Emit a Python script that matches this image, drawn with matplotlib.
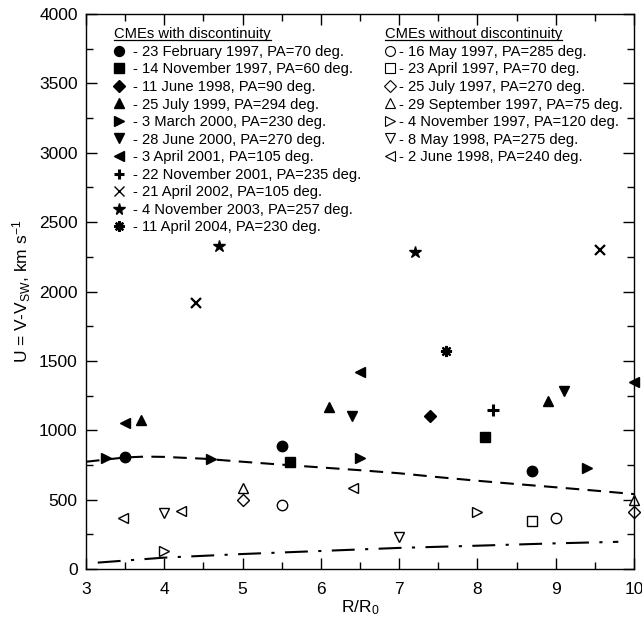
import matplotlib
matplotlib.use("Agg")
import matplotlib.pyplot as plt
from matplotlib.lines import Line2D
from matplotlib.ticker import MultipleLocator

plt.rcParams['font.family'] = ['Liberation Sans', 'DejaVu Sans']
plt.rcParams['mathtext.default'] = 'regular'

# ---- data: CMEs with discontinuity (filled markers) ----
with_labels = [
    "- 23 February 1997, PA=70 deg.",
    "- 14 November 1997, PA=60 deg.",
    "- 11 June 1998, PA=90 deg.",
    "- 25 July 1999, PA=294 deg.",
    "- 3 March 2000, PA=230 deg.",
    "- 28 June 2000, PA=270 deg.",
    "- 3 April 2001, PA=105 deg.",
    "- 22 November 2001, PA=235 deg.",
    "- 21 April 2002, PA=105 deg.",
    "- 4 November 2003, PA=257 deg.",
    "- 11 April 2004, PA=230 deg.",
]
with_x = [
    [3.5, 5.5, 8.7],
    [5.6, 8.1],
    [7.4],
    [3.7, 6.1, 8.9],
    [3.25, 4.6, 6.5, 9.4],
    [6.4, 9.1],
    [3.5, 6.5, 10.0],
    [8.2],
    [4.4, 9.57],
    [4.7, 7.2],
    [7.6],
]
with_y = [
    [810, 888, 709],
    [773, 950],
    [1103],
    [1074, 1168, 1212],
    [802, 790, 797, 730],
    [1105, 1281],
    [1050, 1420, 1348],
    [1146],
    [1919, 2299],
    [2328, 2282],
    [1570],
]

# ---- data: CMEs without discontinuity (open markers) ----
without_labels = [
    "- 16 May 1997, PA=285 deg.",
    "- 23 April 1997, PA=70 deg.",
    "- 25 July 1997, PA=270 deg.",
    "- 29 September 1997, PA=75 deg.",
    "- 4 November 1997, PA=120 deg.",
    "- 8 May 1998, PA=275 deg.",
    "- 2 June 1998, PA=240 deg.",
]
without_x = [
    [5.5, 9.0],
    [8.7],
    [5.0, 10.0],
    [5.0, 10.0],
    [4.0, 8.0],
    [4.0, 7.0],
    [3.47, 4.21, 6.41],
]
without_y = [
    [459, 370],
    [346],
    [495, 413],
    [584, 497],
    [130, 408],
    [403, 228],
    [365, 420, 581],
]

# ---- model curves ----
dash_x = [3.0, 3.5, 3.75, 4.0, 4.5, 5.0, 5.5, 6.0, 6.5, 7.0, 7.5, 8.0, 8.5, 9.0, 9.5, 10.0]
dash_y = [773, 804, 810, 808, 795, 773, 752, 732, 712, 690, 662, 636, 612, 589, 565, 540]
dd_x = [3.15, 4.0, 5.0, 6.0, 7.0, 8.0, 9.0, 9.8]
dd_y = [46, 82, 108, 130, 152, 168, 185, 196]

with_markers = ['o', 's', 'D', '^', '>', 'v', '<', '+', 'x', '*', (8, 2, 0)]
with_sizes = [7.5, 7, 6, 7.5, 7.5, 7.5, 7.5, 8, 7, 9, 8]
with_mew = [1.0, 1.0, 1.0, 1.0, 1.0, 1.0, 1.0, 2.2, 1.6, 1.0, 1.6]
without_markers = ['o', 's', 'D', '^', '>', 'v', '<']
without_sizes = [7.5, 7, 6, 7.5, 7.5, 7.5, 7.5]

fig = plt.figure(figsize=(6.42, 6.19), dpi=100)
ax = fig.add_axes([86/642, 1-569/619, (634-86)/642, (569-14)/619])

ax.plot(dash_x, dash_y, color='black', lw=1.5, linestyle=(0, (6.5, 4)))
ax.plot(dd_x, dd_y, color='black', lw=1.5, linestyle=(0, (11, 5, 1.5, 5)))

h1 = []
for xs, ys, m, s, mew in zip(with_x, with_y, with_markers, with_sizes, with_mew):
    ax.plot(xs, ys, linestyle='none', marker=m, markersize=s, color='black',
            markerfacecolor='black', markeredgewidth=mew, clip_on=False)
    lmew = 1.0 if m == 'x' else mew
    h1.append(Line2D([], [], linestyle='none', marker=m, markersize=s*0.95, color='black',
                     markerfacecolor='black', markeredgewidth=lmew))

h2 = []
for xs, ys, m, s in zip(without_x, without_y, without_markers, without_sizes):
    ax.plot(xs, ys, linestyle='none', marker=m, markersize=s, color='black',
            markerfacecolor='white', markeredgewidth=1.0, clip_on=False)
    h2.append(Line2D([], [], linestyle='none', marker=m, markersize=s*0.95, color='black',
                     markerfacecolor='white', markeredgewidth=0.8))

ax.set_xlim(3, 10)
ax.set_ylim(0, 4000)
ax.xaxis.set_major_locator(MultipleLocator(1))
ax.xaxis.set_minor_locator(MultipleLocator(0.5))
ax.yaxis.set_major_locator(MultipleLocator(500))
ax.yaxis.set_minor_locator(MultipleLocator(250))
ax.tick_params(which='both', direction='in', top=True, right=True, labelsize=12.5, width=1)
ax.tick_params(which='major', length=8, pad=6)
ax.tick_params(axis='x', which='major', pad=9)
ax.tick_params(which='minor', length=5)
for sp in ax.spines.values():
    sp.set_linewidth(1.0)

ax.set_xlabel("R/R$_0$", fontsize=12.5, labelpad=1)
ax.set_ylabel("U = V-V$_{SW}$, km s$^{-1}$", fontsize=12.5, labelpad=4)

leg_kw = dict(frameon=False, handlelength=0.7, labelspacing=0.24,
              fontsize=10.6, title_fontsize=10.6, borderaxespad=0, alignment='left',
              borderpad=0)
leg1 = ax.legend(h1, with_labels, title="CMEs with discontinuity", handletextpad=0.6,
                 loc='upper left', bbox_to_anchor=(0.051, 0.977), **leg_kw)
ax.add_artist(leg1)
leg2 = ax.legend(h2, without_labels, title="CMEs without discontinuity", handletextpad=0.3,
                 loc='upper left', bbox_to_anchor=(0.545, 0.977), **leg_kw)
for lg in (leg1, leg2):
    lg._legend_title_box.set_offset  # keep default packing
    lg._legend_box.sep = 3

# underline the legend titles
fig.canvas.draw()
r = fig.canvas.get_renderer()
for lg in (leg1, leg2):
    t = lg.get_title()
    bb = t.get_window_extent(r).transformed(fig.transFigure.inverted())
    fig.add_artist(Line2D([bb.x0, bb.x1], [bb.y0 + 0.002, bb.y0 + 0.002],
                          color='black', lw=0.9, transform=fig.transFigure))

fig.savefig("out.png", dpi=100)
